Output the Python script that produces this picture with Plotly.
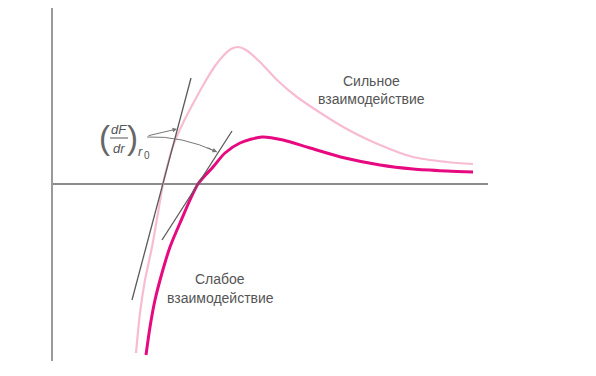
import plotly.graph_objects as go

# Interatomic distance r and force F (arbitrary units, F = 0 at the horizontal axis)
strong_r = [83, 87, 92, 99, 105, 110, 114, 120, 130, 142, 152, 162, 171, 178, 185, 193, 207, 224, 244, 292, 327, 360, 394, 420]
strong_F = [-169, -129, -96, -63, -29, 0, 17, 38, 61, 84, 102, 118, 129, 135, 137, 134, 122, 104, 87, 56, 39, 27, 22, 20]

weak_r = [93, 97, 102, 109, 117, 127, 145, 160, 172, 187, 209, 230, 257, 292, 327, 360, 394, 420]
weak_F = [-171, -143, -116, -89, -63, -39, 0, 17, 31, 41, 47, 44, 36, 26, 19, 15, 13, 12]

# Tangent lines (dF/dr) at the zero crossings r0
tan_strong_r = [79, 138]
tan_strong_F = [-116, 106]
tan_weak_r = [109, 179]
tan_weak_F = [-56, 53]

PINK = "#f8bcd2"
MAGENTA = "#e6097f"
GREY_TXT = "#555555"
AXIS = "#8c8c8c"
FONT = "Liberation Sans, Arial, sans-serif"

fig = go.Figure()
fig.add_trace(go.Scatter(x=strong_r, y=strong_F, mode="lines", line=dict(color=PINK, width=2.2, shape="spline", smoothing=0.8), hoverinfo="skip"))
fig.add_trace(go.Scatter(x=weak_r, y=weak_F, mode="lines", line=dict(color=MAGENTA, width=3, shape="spline", smoothing=0.8), hoverinfo="skip"))
fig.add_trace(go.Scatter(x=tan_strong_r, y=tan_strong_F, mode="lines", line=dict(color="#5a5a5a", width=1.3), hoverinfo="skip"))
fig.add_trace(go.Scatter(x=tan_weak_r, y=tan_weak_F, mode="lines", line=dict(color="#5a5a5a", width=1.3), hoverinfo="skip"))

ann = []
def txt(x, y, s, size=14, xanchor="center", yanchor="middle", color=GREY_TXT, **kw):
    ann.append(dict(x=x, y=y, xref="x", yref="y", text=s, showarrow=False, xanchor=xanchor, yanchor=yanchor,
                    font=dict(family=FONT, size=size, color=color), **kw))

txt(318, 103, "Сильное")
txt(318, 85, "взаимодействие")
txt(167, -95, "Слабое")
txt(167, -114, "взаимодействие")
txt(441, 11, "Межатомное", size=14.5, xanchor="left")
txt(441, -1, "расстояние <i>r</i>", size=14, xanchor="left")
txt(-8, 0, "0", size=13, xanchor="right")
txt(-28, 0, "Сила <i>F</i>", size=12, textangle=-90)

# (dF/dr)_r0 label built from parts
txt(51.5, 47, "(", size=33, color="#666666")
txt(79.5, 47, ")", size=33, color="#666666")
txt(65.5, 55, "<i>dF</i>", size=13)
txt(65.5, 36, "<i>dr</i>", size=13)
txt(87, 33, "<i>r</i>", size=13)
txt(93.5, 29, "0", size=10)

# arrow to the tangent on the strong curve
ann.append(dict(x=124, y=55, xref="x", yref="y", ax=-30, ay=7, axref="pixel", ayref="pixel",
                showarrow=True, arrowhead=2, arrowsize=0.9, arrowwidth=1, arrowcolor="#777777", text=""))
# arrowhead for the curved arrow to the weak tangent
ann.append(dict(x=164, y=32, xref="x", yref="y", ax=-11, ay=-5, axref="pixel", ayref="pixel",
                showarrow=True, arrowhead=2, arrowsize=0.9, arrowwidth=1, arrowcolor="#777777", text=""))

shapes = [
    dict(type="path", xref="x", yref="y", path="M 94,47 Q 129,48.5 164,32", line=dict(color="#777777", width=1)),
    dict(type="line", xref="x", yref="y", x0=57, x1=75, y0=46, y1=46, line=dict(color=GREY_TXT, width=1)),
]

fig.update_layout(
    width=596, height=376, margin=dict(l=53, r=108, t=8, b=15),
    paper_bgcolor="white", plot_bgcolor="white", showlegend=False,
    annotations=ann, shapes=shapes,
    xaxis=dict(range=[0, 435], showgrid=False, zeroline=False, showticklabels=False, showline=False, fixedrange=True),
    yaxis=dict(range=[-177, 176], showgrid=False, zeroline=True, zerolinecolor=AXIS, zerolinewidth=1.5,
               showticklabels=False, showline=True, linecolor="#9a9a9a", linewidth=2, fixedrange=True),
)
fig.write_html("out.html")
